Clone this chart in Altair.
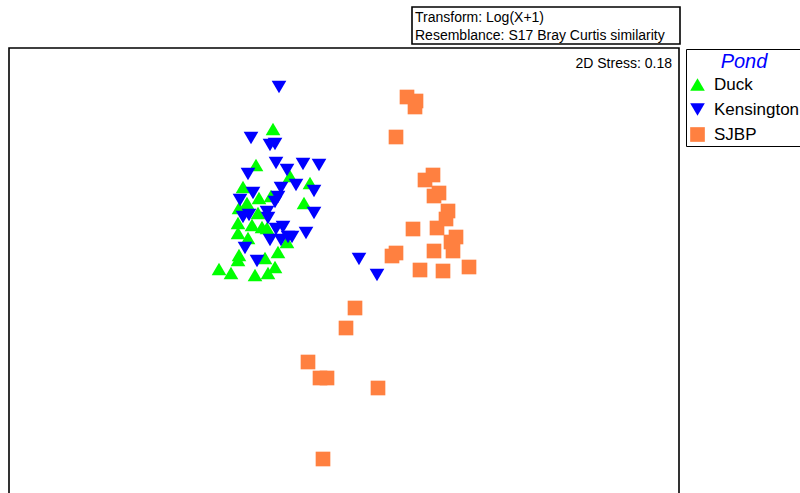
import altair as alt
import pandas as pd

# nMDS ordination of pond samples (Bray-Curtis on log(x+1) data)
ponds = ["Duck", "Kensington", "SJBP"]
pond_colours = ["#00FF00", "#0000FF", "#FF8040"]
pond_shapes = ["triangle-up", "triangle-down", "square"]
pond_sizes = [215, 215, 144]

duck_x = [-0.67, -0.84, -0.50, -0.97, -0.30, -0.81, -0.69, -0.36, -0.93, -1.01,
          -0.82, -1.02, -0.88, -0.78, -0.73, -1.02, -0.92, -0.53, -0.62, -1.01,
          -0.75, -1.02, -0.65, -1.21, -1.09, -0.85, -0.72]
duck_y = [1.71, 1.35, 1.24, 1.13, 1.17, 1.02, 1.04, 0.97, 0.97, 0.92,
          0.87, 0.77, 0.75, 0.73, 0.72, 0.67, 0.62, 0.58, 0.48, 0.45,
          0.42, 0.40, 0.33, 0.31, 0.27, 0.25, 0.27]

kens_x = [-0.61, -0.89, -0.70, -0.65, -0.64, -0.37, -0.21, -0.53, -0.92, -0.44,
          -0.26, -0.59, -0.62, -0.65, -0.87, -1.00, -0.73, -0.72, -0.97, -0.91,
          -0.26, -0.57, -0.64, -0.52, -0.70, -0.59, -0.34, -0.48, -0.95, -0.83,
          0.19, 0.37]
kens_y = [2.13, 1.62, 1.55, 1.56, 1.37, 1.36, 1.35, 1.30, 1.26, 1.15,
          1.09, 1.12, 1.03, 0.98, 1.07, 1.00, 0.88, 0.82, 0.83, 0.85,
          0.87, 0.73, 0.71, 0.63, 0.60, 0.60, 0.67, 0.63, 0.52, 0.39,
          0.41, 0.25]

sjbp_x = [0.67, 0.76, 0.75, 0.56, 0.85, 0.93, 0.94, 0.99, 1.08, 1.06,
          0.73, 0.97, 1.16, 1.11, 1.13, 0.94, 0.56, 0.52, 0.80, 1.03,
          1.29, 0.15, 0.06, -0.32, -0.20, -0.13, 0.38, -0.17]
sjbp_y = [2.03, 1.99, 1.93, 1.63, 1.20, 1.25, 1.04, 1.07, 0.89, 0.81,
          0.71, 0.72, 0.63, 0.58, 0.49, 0.49, 0.47, 0.44, 0.30, 0.29,
          0.33, -0.08, -0.28, -0.62, -0.78, -0.78, -0.88, -1.59]

transform_note = "Transform: Log(X+1)"
resemblance_note = "Resemblance: S17 Bray Curtis similarity"
stress_note = "2D Stress: 0.18"

rows = []
for pond, xs, ys in [("Duck", duck_x, duck_y),
                     ("Kensington", kens_x, kens_y),
                     ("SJBP", sjbp_x, sjbp_y)]:
    for x, y in zip(xs, ys):
        rows.append({"Pond": pond, "MDS1": x, "MDS2": y})
samples = pd.DataFrame(rows)
one = pd.DataFrame({"k": [0]})

FONT = "Liberation Sans"

pond_legend = alt.Legend(
    title="Pond", orient="none", legendX=686, legendY=49,
    titleFont=FONT, titleFontSize=20, titleFontStyle="italic",
    titleFontWeight="normal", titleColor="#0000FF",
    titleAnchor="middle", titleAlign="center", titlePadding=4,
    labelFont=FONT, labelFontSize=17, labelColor="black",
    labelOffset=8, symbolStrokeWidth=0,
    rowPadding=7, padding=3, strokeColor="black",
    fillColor="white", symbolOpacity=1)

points = alt.Chart(samples).mark_point(filled=True, opacity=1, strokeWidth=0).encode(
    x=alt.X("MDS1:Q", axis=None,
            scale=alt.Scale(domain=[-3.40, 4.60], nice=False, zero=False)),
    y=alt.Y("MDS2:Q", axis=None,
            scale=alt.Scale(domain=[-1.93, 3.00], nice=False, zero=False)),
    color=alt.Color("Pond:N",
                    scale=alt.Scale(domain=ponds, range=pond_colours),
                    legend=pond_legend),
    shape=alt.Shape("Pond:N", scale=alt.Scale(domain=ponds, range=pond_shapes),
                    legend=pond_legend),
    size=alt.Size("Pond:N", scale=alt.Scale(domain=ponds, range=pond_sizes),
                  legend=pond_legend),
)

frame = alt.Chart(one).mark_rect(filled=False, stroke="black", strokeWidth=1.6).encode(
    x=alt.value(9), x2=alt.value(679), y=alt.value(48), y2=alt.value(530)
)

note_box = alt.Chart(one).mark_rect(filled=False, stroke="black", strokeWidth=1.6).encode(
    x=alt.value(412), x2=alt.value(680), y=alt.value(7), y2=alt.value(44)
)

note1 = alt.Chart(one).mark_text(align="left", baseline="alphabetic", font=FONT,
                                 fontSize=14, color="black").encode(
    x=alt.value(415), y=alt.value(21.5), text=alt.value(transform_note))
note2 = alt.Chart(one).mark_text(align="left", baseline="alphabetic", font=FONT,
                                 fontSize=14, color="black").encode(
    x=alt.value(415), y=alt.value(39.5), text=alt.value(resemblance_note))
stress = alt.Chart(one).mark_text(align="right", baseline="alphabetic", font=FONT,
                                  fontSize=14, color="black").encode(
    x=alt.value(672), y=alt.value(68), text=alt.value(stress_note))

chart = alt.layer(frame, note_box, note1, note2, stress, points).properties(
    width=800, height=493, padding=0, autosize=alt.AutoSizeParams(type="none"),
    background="white"
).configure_view(stroke=None)

chart.save("out.html", embed_options={"renderer": "svg", "actions": False})
